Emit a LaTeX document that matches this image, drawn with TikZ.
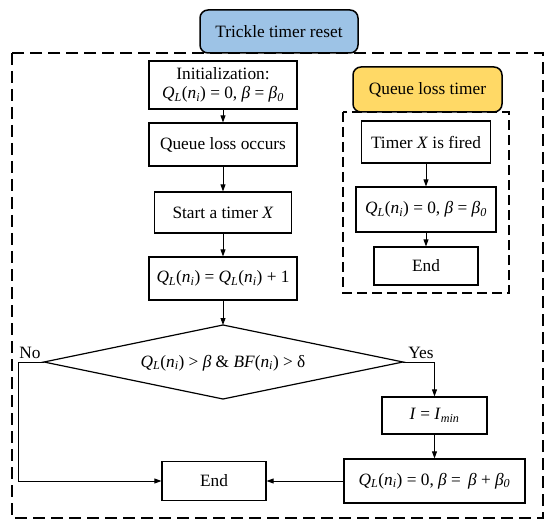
\documentclass[tikz,border=0pt]{standalone}
\usepackage{fontspec}
\setmainfont{Liberation Serif}
\usetikzlibrary{arrows.meta}
\definecolor{tblue}{HTML}{9DC3E6}
\definecolor{tyellow}{HTML}{FFD966}
\newcommand\QLni{\textit{Q}\textsubscript{\textit{L}}(\textit{n}\textsubscript{\textit{i}})}
\begin{document}
\begin{tikzpicture}[x=1pt,y=-1pt,
  font=\fontsize{17.3}{20}\selectfont,
  box/.style={draw, line width=1.2pt, fill=white, inner sep=0pt, align=center},
  tag/.style={draw, line width=1.5pt, rounded corners=8pt, inner sep=0pt},
  frame/.style={draw, line width=1.8pt, dash pattern=on 12pt off 6pt},
  subframe/.style={draw, line width=1.4pt, dash pattern=on 10pt off 5pt},
  conn/.style={line width=0.9pt, -{Triangle[length=7pt,width=5pt]}},
  lbl/.style={inner sep=0pt}]
\useasboundingbox (0,0) rectangle (550,527);
% frames
\draw[frame] (12,53) rectangle (543,518);
\draw[subframe] (343,112) rectangle (509,293);
% tags
\node[tag, fill=tblue, minimum width=158pt, minimum height=43pt] (ttr) at (279,31.5) {Trickle timer reset};
\node[tag, fill=tyellow, minimum width=149pt, minimum height=45pt] (qlt) at (427.5,89.5) {Queue loss timer};
% main column
\node[box, minimum width=148pt, minimum height=48pt] (init) at (223,85) {Initialization:\\[-1pt]\QLni{} = 0, \textit{β} = \textit{β}\textsubscript{\textit{0}}};
\node[box, minimum width=148pt, minimum height=43pt] (qlo) at (223,144.5) {Queue loss occurs};
\node[box, minimum width=137pt, minimum height=41pt] (start) at (223,212.5) {Start a timer \textit{X}};
\node[box, minimum width=148pt, minimum height=43pt] (inc) at (223,278.5) {\QLni{} = \QLni{} + 1};
% decision
\coordinate (dt) at (223,325);
\coordinate (dr) at (403,362);
\coordinate (db) at (223,399);
\coordinate (dl) at (44,362);
\draw[line width=1.2pt, line join=miter] (dt) -- (dr) -- (db) -- (dl) -- cycle;
\node[lbl] (dec) at (223,363) {\QLni{} \textgreater{} \textit{β} \& \textit{BF}(\textit{n}\textsubscript{\textit{i}}) \textgreater{} δ};
\node[box, minimum width=105pt, minimum height=37pt] (imin) at (434.5,415.5) {\textit{I} = \textit{I}\textsubscript{\textit{min}}};
\node[box, minimum width=181pt, minimum height=44pt] (rql) at (434.5,481) {\QLni{} = 0, \textit{β} =\, \textit{β} + \textit{β}\textsubscript{\textit{0}}};
\node[box, minimum width=104pt, minimum height=39pt] (end) at (214,481) {End};
\coordinate (nocorner) at (18,362);
\coordinate (yescorner) at (434.5,362);
\node[lbl] (nolab) at (30,353) {No};
\node[lbl] (yeslab) at (421,353) {Yes};
% right panel
\node[box, minimum width=129pt, minimum height=42pt] (timer) at (426,142) {Timer \textit{X} is fired};
\node[box, minimum width=140pt, minimum height=45pt] (rql2) at (426,209.5) {\QLni{} = 0, \textit{β} = \textit{β}\textsubscript{\textit{0}}};
\node[box, minimum width=104pt, minimum height=38pt] (end2) at (426,266) {End};
% connectors
\draw[conn] (init.south) -- (qlo.north);
\draw[conn] (qlo.south) -- (start.north);
\draw[conn] (start.south) -- (inc.north);
\draw[conn] (inc.south) -- (dt);
\draw[conn] (dl) -- (nocorner) |- (end.west);
\draw[conn] (dr) -- (yescorner) -- (imin.north);
\draw[conn] (imin.south) -- (rql.north);
\draw[conn] (rql.west) -- (end.east);
\draw[conn] (timer.south) -- (rql2.north);
\draw[conn] (rql2.south) -- (end2.north);
\end{tikzpicture}
\end{document}
